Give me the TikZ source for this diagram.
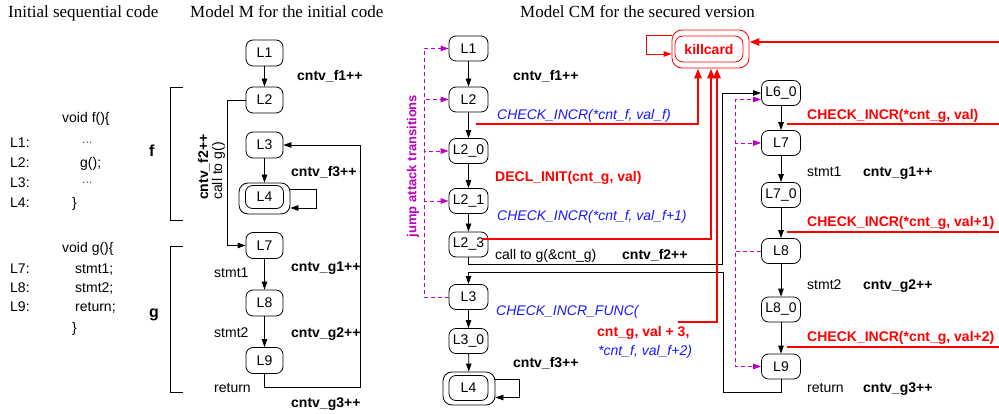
\documentclass[tikz,border=0pt]{standalone}
\usepackage{fontspec}
\setmainfont{Liberation Sans}
\newfontfamily\serifttl{Liberation Serif}
\usetikzlibrary{arrows.meta,calc}
\definecolor{mag}{RGB}{190,0,190}
\definecolor{kred}{RGB}{255,0,0}
\definecolor{kblue}{RGB}{25,25,255}
\newcommand\myfs[1]{\fontsize{#1}{#1}\selectfont}
\begin{document}
\begin{tikzpicture}[x=1pt,y=-1pt,
  st/.style={draw, rounded corners=7pt, minimum width=39pt, minimum height=25pt, inner sep=0pt, line width=0.8pt, font=\myfs{14}},
  stm/.style={st, minimum width=37pt, minimum height=26pt},
  arr/.style={line width=0.8pt, -{Triangle[length=8pt,width=5.5pt]}},
  lab/.style={anchor=base west, inner sep=0pt, font=\myfs{14}},
  blab/.style={lab, font=\myfs{14}\bfseries},
  rlab/.style={blab, text=kred},
  ilab/.style={lab, font=\myfs{14}\itshape, text=kblue},
  ttl/.style={anchor=base west, inner sep=0pt, font=\serifttl\myfs{17}},
  rthick/.style={draw=kred, line width=2.8pt},
  rarr/.style={-{Triangle[length=10pt,width=7pt]}},
  mline/.style={draw=mag, dash pattern=on 4pt off 3pt, line width=0.8pt, -{Triangle[length=8pt,width=5.5pt]}},
  mnone/.style={draw=mag, dash pattern=on 4pt off 3pt, line width=0.8pt}
]
\path[fill=white] (0,0) rectangle (999,414);
\useasboundingbox (0,0) rectangle (999,414);

% titles
\node[ttl] (t1) at (8,18) {Initial sequential code};
\node[ttl] (t2) at (190,18) {Model M for the initial code};
\node[ttl] (t3) at (520,18) {Model CM for the secured version};

% code
\node[lab] (cf) at (62,123) {void f()\{};
\node[lab] (c1) at (10,148) {L1:};
\node[lab, font=\myfs{10}] (c1d) at (82,146) {···};
\node[lab] (c2) at (10,168) {L2:};
\node[lab] (c2t) at (80,168) {g();};
\node[lab] (c3) at (10,188) {L3:};
\node[lab, font=\myfs{10}] (c3d) at (82,186) {···};
\node[lab] (c4) at (10,208) {L4:};
\node[lab] (c4t) at (72,208) {\}};
\node[lab] (cg) at (62,253) {void g()\{};
\node[lab] (c7) at (10,273) {L7:};
\node[lab] (c7t) at (75,273) {stmt1;};
\node[lab] (c8) at (10,292) {L8:};
\node[lab] (c8t) at (75,292) {stmt2;};
\node[lab] (c9) at (10,311) {L9:};
\node[lab] (c9t) at (75,311) {return;};
\node[lab] (cge) at (72,332) {\}};

% Model M
\node[stm] (M1) at (264.5,53) {L1};
\node[stm] (M2) at (264.5,100) {L2};
\node[stm] (M3) at (264.5,145) {L3};
\node[stm, minimum width=51pt, minimum height=31pt, rounded corners=9pt] (M4o) at (264.5,198.5) {};
\node[stm, minimum width=38pt, minimum height=23pt] (M4) at (264.5,197) {L4};
\node[stm] (M7) at (264.5,245.5) {L7};
\node[stm] (M8) at (264.5,303) {L8};
\node[stm] (M9) at (264.5,360.5) {L9};

\draw[arr] (M1) -- (M2);
\draw[arr] (M3) -- (M4o);
\draw[arr] (M7) -- (M8);
\draw[arr] (M8) -- (M9);
\draw[arr] (M2.west) -- ++(-18,0) |- (M7.west);
\draw[arr] (M9.south) -- ++(0,13) -| ($(M3.east)+(77,0)$) -- (M3.east);
\draw[arr] ([yshift=9.5pt]M4o.east) -- ++(26,0) -- ++(0,19) -- ([yshift=-9.5pt]M4o.east);

\draw[line width=0.8pt] (183,87) -- (170,87) -- (170,220) -- (183,220);
\draw[line width=0.8pt] (183,246) -- (170,246) -- (170,392) -- (183,392);
\node[blab, font=\myfs{16}\bfseries] (bf) at (149,157) {f};
\node[blab, font=\myfs{16}\bfseries] (bg) at (149,317) {g};

\node[blab] (m1) at (297,81) {cntv\_f1++};
\node[blab] (m3) at (291,177) {cntv\_f3++};
\node[blab] (mg1) at (291,272) {cntv\_g1++};
\node[lab] (ms1) at (214,278) {stmt1};
\node[blab] (mg2) at (291,337) {cntv\_g2++};
\node[lab] (ms2) at (214,337) {stmt2};
\node[lab] (mr) at (214,392) {return};
\node[blab] (mg3) at (291,407) {cntv\_g3++};
\node[blab, rotate=90] (mf2) at (208,200) {cntv\_f2++};
\node[lab, rotate=90] (mcall) at (222,200) {call to g()};

% Model CM left column
\node[st] (C1) at (468.5,48.5) {L1};
\node[st] (C2) at (468.5,99.5) {L2};
\node[st] (C20) at (468.5,151) {L2\_0};
\node[st] (C21) at (468.5,201) {L2\_1};
\node[st] (C23) at (468.5,244.5) {L2\_3};
\node[st] (C3) at (468.5,297) {L3};
\node[st] (C30) at (468.5,341) {L3\_0};
\node[st, minimum width=52pt, minimum height=33pt, rounded corners=9pt] (C4o) at (469,388.5) {};
\node[st] (C4) at (468.5,388) {L4};

% right column
\node[st] (D60) at (781,93) {L6\_0};
\node[st] (D7) at (781,143) {L7};
\node[st] (D70) at (781,195) {L7\_0};
\node[st] (D8) at (781,251) {L8};
\node[st] (D80) at (781,309.5) {L8\_0};
\node[st] (D9) at (781,366.5) {L9};

% killcard
\node[draw=kred, line width=0.8pt, rounded corners=10pt, minimum width=77pt, minimum height=38pt] (K) at (710.5,49) {};
\node[draw=kred, line width=0.8pt, rounded corners=8pt, minimum width=68pt, minimum height=26pt, inner sep=0pt, text=kred, font=\myfs{14}\bfseries] (Ki) at (709,49) {killcard};

\draw[arr] (C1) -- (C2);
\draw[arr] (C2) -- (C20);
\draw[arr] (C20) -- (C21);
\draw[arr] (C21) -- (C23);
\draw[arr] (C3) -- (C30);
\draw[arr] (C30) -- (C4o);
\draw[arr] ([yshift=9pt]C4o.east) -- ++(24,0) -- ++(0,18) -- ([yshift=-9pt]C4o.east);
\draw[arr] (D60) -- (D7);
\draw[arr] (D7) -- (D70);
\draw[arr] (D70) -- (D8);
\draw[arr] (D8) -- (D80);
\draw[arr] (D80) -- (D9);

\coordinate (rj) at (723,272);
\draw[arr] (C23.south) -- ++(0,7) -| ($(D60.west)+(-39,0)$) -- (D60.west);
\draw[arr] (D9.south) -- ++(0,13) -| (rj) -| (C3.north);

% jump attack transitions
\draw[mline] (C3.west) -- ++(-24.5,0) |- (C1.west);
\draw[mline] (C3.west) -- ++(-24.5,0) |- (C2.west);
\draw[mline] (C3.west) -- ++(-24.5,0) |- (C20.west);
\draw[mline] (C3.west) -- ++(-24.5,0) |- (C21.west);
\draw[mline] (D8.west) -- ++(-26,0) |- ([yshift=-6.5pt]D60.west);
\draw[mline] (D8.west) -- ++(-26,0) |- (D7.west);
\draw[mline] (D8.west) -- ++(-26,0) |- (D9.west);
\node[rotate=90, text=mag, font=\myfs{13}\bfseries, inner sep=0pt] (jt) at (413,166) {jump attack transitions};

% red lines
\coordinate (r1) at (476,124);
\coordinate (r2) at (482,239);
\coordinate (r3) at (678,322);
\coordinate (rin) at (999,42);
\coordinate (ra) at (787,124);
\coordinate (rae) at (999,124);
\coordinate (rb) at (787,232);
\coordinate (rbe) at (999,232);
\coordinate (rc) at (787,347);
\coordinate (rce) at (999,347);
\draw[rthick, rarr] (r1) -| ([xshift=-12.5pt]K.south);
\draw[rthick, rarr] (r2) -| ([xshift=0.5pt]K.south);
\draw[rthick, rarr] (r3) -| ([xshift=6.5pt]K.south);
\draw[rthick, rarr] (rin) -- ([yshift=7pt]K.east);
\draw[rthick] (ra) -- (rae);
\draw[rthick] (rb) -- (rbe);
\draw[rthick] (rc) -- (rce);
\draw[draw=kred, line width=0.8pt, -{Triangle[length=8pt,width=5.5pt]}] ([yshift=14pt]K.west) -- ++(-25,0) -- ++(0,19) -- ([yshift=-5pt]K.west);

% CM labels
\node[blab] (l1) at (513,81) {cntv\_f1++};
\node[ilab] (l2) at (497,120) {CHECK\_INCR(*cnt\_f, val\_f)};
\node[rlab] (l3) at (495,182) {DECL\_INIT(cnt\_g, val)};
\node[ilab] (l4) at (497,221) {CHECK\_INCR(*cnt\_f, val\_f+1)};
\node[lab] (l5) at (495,260) {call to g(\&cnt\_g)};
\node[blab] (l6) at (622,260) {cntv\_f2++};
\node[ilab] (l7) at (496,316) {CHECK\_INCR\_FUNC(};
\node[rlab] (l8) at (597,336) {cnt\_g, val + 3,};
\node[ilab] (l9) at (598,355) {*cnt\_f, val\_f+2)};
\node[blab] (l10) at (513,367) {cntv\_f3++};
\node[rlab] (r1l) at (807,120) {CHECK\_INCR(*cnt\_g, val)};
\node[lab] (s1) at (807,177) {stmt1};
\node[blab] (g1) at (863,177) {cntv\_g1++};
\node[rlab] (r2l) at (807,227) {CHECK\_INCR(*cnt\_g, val+1)};
\node[lab] (s2) at (807,290) {stmt2};
\node[blab] (g2) at (863,290) {cntv\_g2++};
\node[rlab] (r3l) at (807,341) {CHECK\_INCR(*cnt\_g, val+2)};
\node[lab] (s3) at (807,392) {return};
\node[blab] (g3) at (863,392) {cntv\_g3++};
\end{tikzpicture}
\end{document}
